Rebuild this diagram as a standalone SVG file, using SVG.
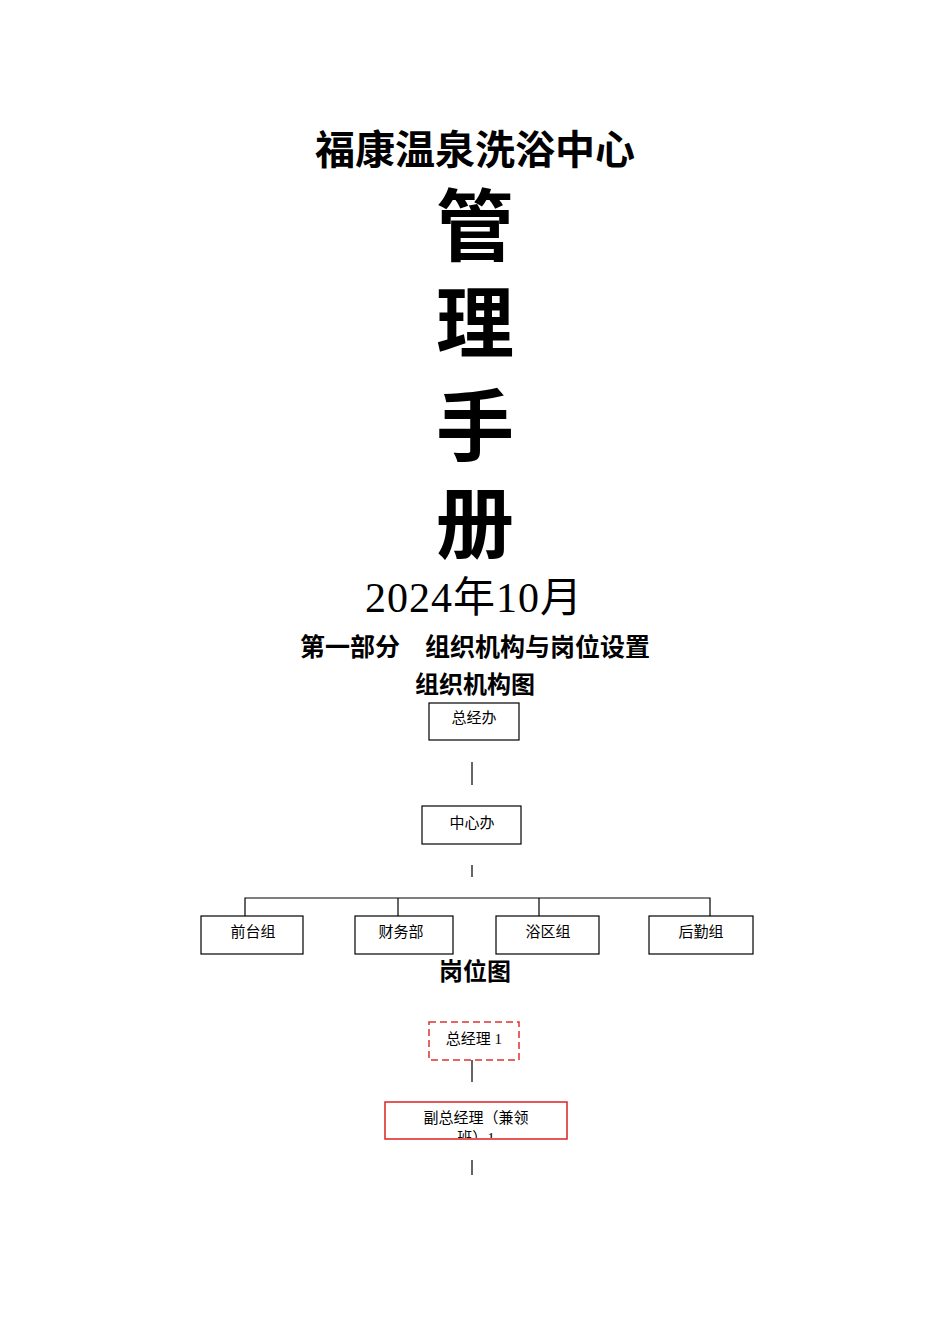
<svg xmlns="http://www.w3.org/2000/svg" width="950" height="1344" viewBox="0 0 950 1344">
<style>
text{font-family:"Liberation Serif","Noto Sans CJK SC",serif;text-anchor:middle;fill:#000}
.t{font-weight:bold}
.n{font-size:15px}
.b{fill:#fff;stroke:#000;stroke-width:1.2}
.l{stroke:#000;stroke-width:1.2;fill:none}
</style>
<defs><clipPath id="c"><rect x="386" y="1103" width="180" height="35"/></clipPath></defs>
<rect width="950" height="1344" fill="#fff"/>
<text class="t" x="475" y="164" font-size="40">福康温泉洗浴中心</text>
<text class="t" x="475" y="255" font-size="78">管</text>
<text class="t" x="475" y="352" font-size="78">理</text>
<text class="t" x="475" y="455" font-size="78">手</text>
<text class="t" x="475" y="552" font-size="78">册</text>
<text x="474" y="612" font-size="42" letter-spacing="1">2024年10月</text>
<text class="t" x="475" y="656" font-size="25">第一部分　组织机构与岗位设置</text>
<text class="t" x="475" y="693" font-size="24">组织机构图</text>
<g id="connectors">
<path class="l" d="M472 762V785M472 865V877M245 916V898H710V916M398 898V916M539 898V916M472 1052V1082M472 1160V1175"/>
</g>
<g id="n1"><rect class="b" x="429" y="703" width="90" height="37"/><text class="n" x="474" y="723">总经办</text></g>
<g id="n2"><rect class="b" x="422" y="806" width="99" height="38"/><text class="n" x="472" y="828">中心办</text></g>
<g id="n3"><rect class="b" x="201" y="916" width="102" height="38"/><text class="n" x="253" y="937">前台组</text></g>
<g id="n4"><rect class="b" x="355" y="916" width="98" height="38"/><text class="n" x="401" y="937">财务部</text></g>
<g id="n5"><rect class="b" x="496" y="916" width="103" height="38"/><text class="n" x="548" y="937">浴区组</text></g>
<g id="n6"><rect class="b" x="649" y="916" width="104" height="38"/><text class="n" x="701" y="937">后勤组</text></g>
<text class="t" x="475" y="980" font-size="24">岗位图</text>
<g id="p1"><rect x="429" y="1022" width="90" height="38" fill="#fff" stroke="#d33" stroke-width="1.5" stroke-dasharray="7,4"/><text class="n" x="474" y="1044">总经理 1</text></g>
<g id="p2"><rect x="385" y="1102" width="182" height="37" fill="#fff" stroke="#d22" stroke-width="1.5"/><g clip-path="url(#c)"><text class="n" x="476" y="1123">副总经理（兼领</text><text class="n" x="476" y="1143">班）1</text></g></g>
</svg>
